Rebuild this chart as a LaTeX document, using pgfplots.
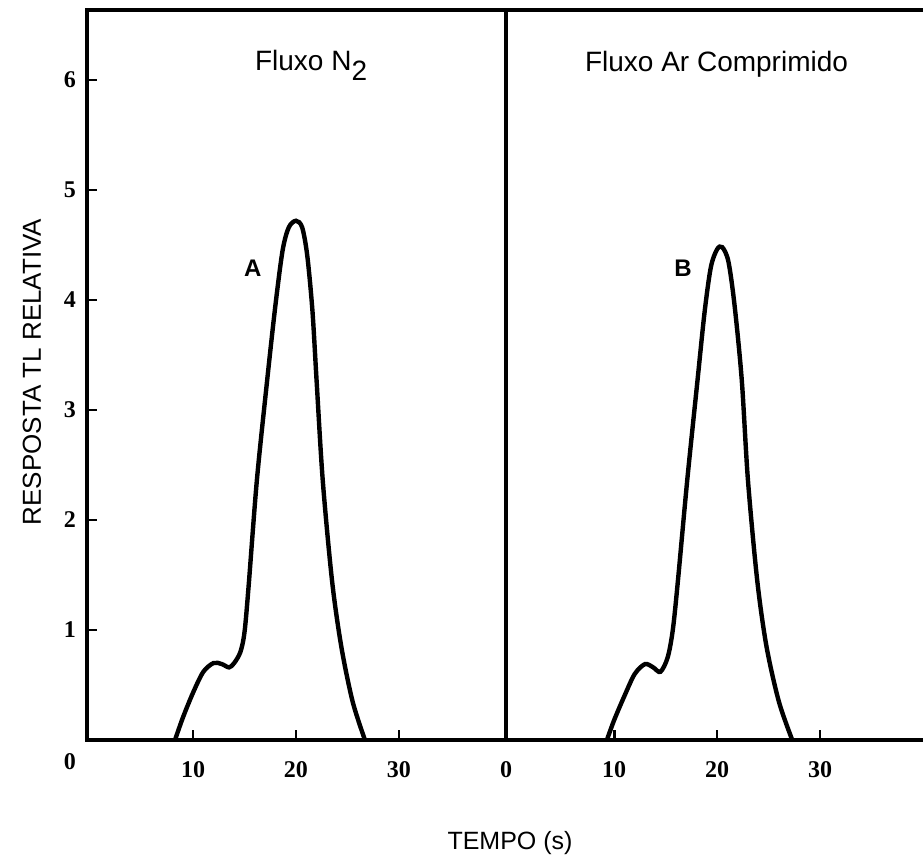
\documentclass[border=0pt]{standalone}
\usepackage{fontspec}
\setmainfont{Liberation Sans}
\newfontfamily\numfont{Liberation Serif}
\usepackage{pgfplots}
\pgfplotsset{compat=1.18}
\begin{document}
\begin{tikzpicture}[x=1pt,y=1pt]
\useasboundingbox (0,0) rectangle (461.5,429.5);
\pgfplotsset{panel/.style={
  scale only axis, height=365pt, ymin=0, ymax=6.636,
  tick align=inside, major tick length=5pt,
  tick style={line width=1.4pt,black},
  xtick pos=bottom, ytick pos=left,
  ticklabel style={font=\numfont\bfseries\fontsize{12}{14}\selectfont},
  /pgf/number format/assume math mode=true,
  xticklabel style={yshift=-7pt},
  clip=false}}
\begin{axis}[panel, at={(43.5pt,59.5pt)}, anchor=south west, width=209.5pt,
  axis line style={-,line width=1.6pt},
  xmin=-0.3, xmax=40.4, xtick={10,20,30}, ytick={1,2,3,4,5,6},
  yticklabel style={xshift=-2pt}]
\addplot[line width=2.2pt, smooth, tension=0.5] coordinates {
(8.25,0) (9,0.2) (10,0.43) (11,0.62) (12,0.70) (12.8,0.69) (13.5,0.66)
(14.0,0.70) (14.6,0.80) (15.0,0.98) (15.4,1.40) (16.2,2.36) (17.2,3.27)
(18.0,3.95) (18.7,4.45) (19.3,4.66) (20.0,4.72) (20.6,4.66) (21.1,4.40)
(21.6,3.90) (22.0,3.27) (22.6,2.36) (23.5,1.45) (24.4,0.85) (25.5,0.35) (26.7,0)};
\node[font=\bfseries\fontsize{12}{14}\selectfont] at (axis cs:15.8,4.29) {A};
\node[font=\numfont\bfseries\fontsize{12}{14}\selectfont] at (axis cs:-0.3,0) [xshift=-8.5pt,yshift=-11pt] {0};
\end{axis}
\begin{axis}[panel, at={(253pt,59.5pt)}, anchor=south west, width=208.5pt,
  xmin=-0.5, xmax=40, xtick={10,20,30}, ytick=\empty,
  axis x line=box, axis y line=left,
  axis line style={-,line width=1.6pt},
  every inner y axis line/.append style={-},
  every outer y axis line/.append style={-}]
\addplot[line width=2.2pt, smooth, tension=0.5] coordinates {
(9.3,0) (10,0.18) (11,0.40) (12,0.60) (13,0.69) (13.8,0.66) (14.5,0.62)
(15.2,0.75) (15.7,1.0) (16.2,1.45) (17.1,2.36) (18.1,3.27) (18.8,3.90)
(19.4,4.30) (20.0,4.46) (20.5,4.48) (21.1,4.35) (21.7,3.95) (22.4,3.27)
(23.0,2.36) (23.9,1.45) (24.8,0.85) (26.0,0.35) (27.3,0)};
\node[font=\bfseries\fontsize{12}{14}\selectfont] at (axis cs:16.7,4.29) {B};
\node[font=\numfont\bfseries\fontsize{12}{14}\selectfont] at (axis cs:-0.5,0) [yshift=-15pt] {0};
\end{axis}
\node[anchor=base west, font=\fontsize{14}{16}\selectfont] at (124,394) {Fluxo N\raisebox{-5pt}{2}};
\node[anchor=base west, font=\fontsize{14}{16}\selectfont] at (289,393.5) {Fluxo Ar Comprimido};
\node[rotate=90, font=\fontsize{13}{15}\selectfont] at (16,243.5) {RESPOSTA TL RELATIVA};
\node[font=\fontsize{12.5}{15}\selectfont] at (255,8) {TEMPO (s)};
\end{tikzpicture}
\end{document}
